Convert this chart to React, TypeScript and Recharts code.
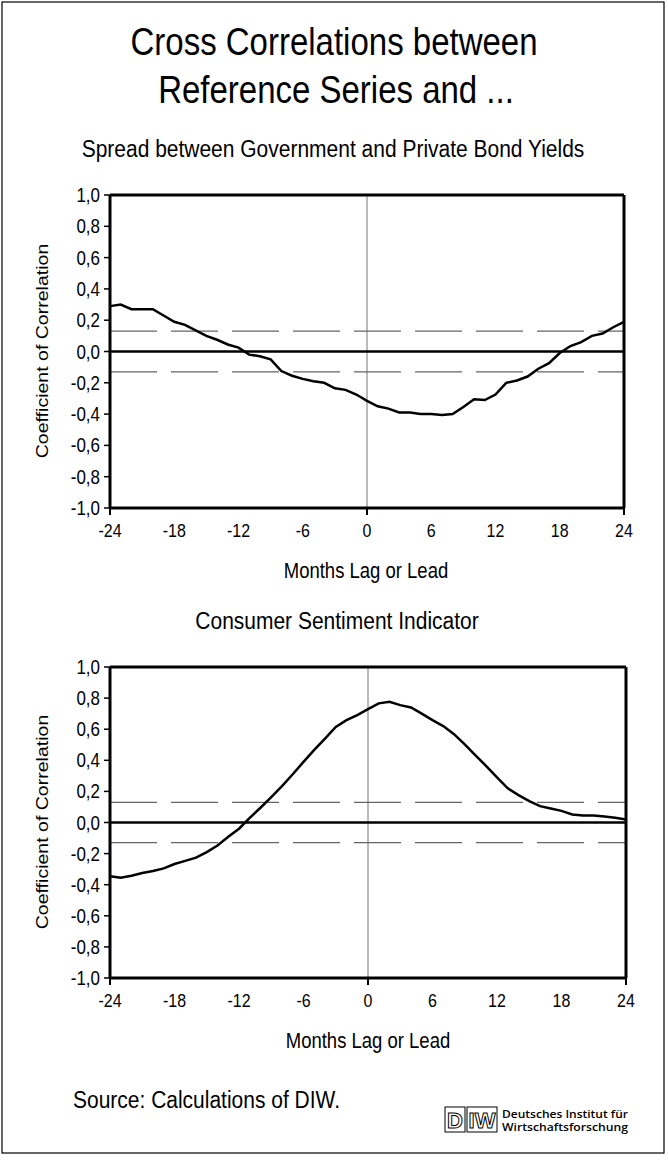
import { LineChart, Line, XAxis, YAxis, ReferenceLine } from 'recharts'

// lag/lead in months
const months = [
  -24, -23, -22, -21, -20, -19, -18, -17, -16, -15, -14, -13, -12,
  -11, -10, -9, -8, -7, -6, -5, -4, -3, -2, -1, 0,
  1, 2, 3, 4, 5, 6, 7, 8, 9, 10, 11, 12,
  13, 14, 15, 16, 17, 18, 19, 20, 21, 22, 23, 24,
]

const spreadValues = [
  0.29, 0.3, 0.27, 0.27, 0.27, 0.23, 0.19, 0.17, 0.135, 0.1, 0.075, 0.045, 0.025,
  -0.02, -0.03, -0.05, -0.125, -0.155, -0.175, -0.19, -0.2, -0.235, -0.245, -0.275, -0.315,
  -0.35, -0.365, -0.39, -0.39, -0.4, -0.4, -0.405, -0.4, -0.355, -0.305, -0.31, -0.275,
  -0.2, -0.185, -0.16, -0.11, -0.075, -0.01, 0.035, 0.06, 0.1, 0.115, 0.155, 0.19,
]

const sentimentValues = [
  -0.345, -0.355, -0.342, -0.325, -0.312, -0.295, -0.267, -0.247, -0.226, -0.19, -0.148, -0.092, -0.04,
  0.03, 0.095, 0.163, 0.234, 0.31, 0.39, 0.467, 0.54, 0.615, 0.658, 0.69, 0.729,
  0.766, 0.776, 0.755, 0.74, 0.7, 0.658, 0.62, 0.568, 0.503, 0.432, 0.363, 0.29,
  0.22, 0.176, 0.138, 0.105, 0.09, 0.075, 0.052, 0.045, 0.045, 0.039, 0.03, 0.02,
]

const xTicks = [-24, -18, -12, -6, 0, 6, 12, 18, 24]
const markedXTicks = [-24, 0, 24]
const yTicks = [1, 0.8, 0.6, 0.4, 0.2, 0, -0.2, -0.4, -0.6, -0.8, -1]
const bandLimit = 0.13

const FONT = '"Liberation Sans", Arial, sans-serif'
const STRETCH = 1.15

function formatComma(value: number): string {
  return value.toFixed(1).replace('.', ',')
}

function XTick(props: any) {
  const { x, y, payload } = props
  const marked = markedXTicks.includes(payload.value)
  return (
    <g>
      {marked && <line x1={x} x2={x} y1={y} y2={y + 7} stroke="#000" strokeWidth={2} />}
      <text
        transform={`translate(${x},${y + 29}) scale(1,${STRETCH})`}
        textAnchor="middle"
        fontSize={16}
        fontFamily={FONT}
        fill="#000"
      >
        {payload.value}
      </text>
    </g>
  )
}

function YTick(props: any) {
  const { x, y, payload } = props
  return (
    <g>
      <line x1={x - 6} x2={x} y1={y} y2={y} stroke="#000" strokeWidth={1.5} />
      <text
        transform={`translate(${x - 10},${y + 7}) scale(1,${STRETCH})`}
        textAnchor="end"
        fontSize={17}
        fontFamily={FONT}
        fill="#000"
      >
        {formatComma(payload.value)}
      </text>
    </g>
  )
}

interface CorrChartProps {
  values: number[]
  top: number
  marginTop: number
  marginRight: number
}

function CorrChart({ values, top, marginTop, marginRight }: CorrChartProps) {
  const rows = months.map((m, i) => ({ month: m, value: values[i] }))
  return (
    <div style={{ position: 'absolute', left: 0, top, width: 668, height: 450 }}>
      <LineChart
        width={668}
        height={450}
        data={rows}
        margin={{ top: marginTop, right: marginRight, bottom: 62, left: 50 }}
      >
        <XAxis
          dataKey="month"
          type="number"
          domain={[-24, 24]}
          ticks={xTicks}
          interval={0}
          height={30}
          tickSize={0}
          tickMargin={0}
          tickLine={false}
          axisLine={{ stroke: '#000', strokeWidth: 3 }}
          tick={<XTick />}
        />
        <YAxis
          type="number"
          domain={[-1, 1]}
          ticks={yTicks}
          interval={0}
          width={60}
          tickSize={0}
          tickMargin={0}
          tickLine={false}
          axisLine={{ stroke: '#000', strokeWidth: 3 }}
          tick={<YTick />}
        />
        <ReferenceLine x={0} stroke="#777" strokeWidth={1} />
        <ReferenceLine y={bandLimit} stroke="#666" strokeWidth={1.2} strokeDasharray="47 14" />
        <ReferenceLine y={-bandLimit} stroke="#666" strokeWidth={1.2} strokeDasharray="47 14" />
        <ReferenceLine y={0} stroke="#000" strokeWidth={2.5} />
        <ReferenceLine y={1} stroke="#000" strokeWidth={3} />
        <ReferenceLine x={24} stroke="#000" strokeWidth={3} />
        <Line
          dataKey="value"
          type="linear"
          stroke="#000"
          strokeWidth={2.5}
          dot={false}
          isAnimationActive={false}
        />
      </LineChart>
    </div>
  )
}

function Txt({ x, y, size, anchor = 'middle', children }: any) {
  return (
    <text
      transform={`translate(${x},${y}) scale(1,${STRETCH})`}
      textAnchor={anchor}
      fontSize={size}
      fontFamily={FONT}
      fill="#000"
    >
      {children}
    </text>
  )
}

function VTxt({ x, y, size, children }: any) {
  return (
    <text
      transform={`translate(${x},${y}) rotate(-90) scale(${STRETCH},1)`}
      textAnchor="middle"
      fontSize={size}
      fontFamily={FONT}
      fill="#000"
    >
      {children}
    </text>
  )
}

export default function App() {
  return (
    <div style={{ position: 'absolute', left: 0, top: 0, width: 668, height: 1167, background: '#fff' }}>
      <svg width={668} height={1167} style={{ position: 'absolute', left: 0, top: 0 }}>
        <rect x={2} y={2} width={662} height={1151} fill="none" stroke="#000" strokeWidth={1.2} />
        <Txt x={334} y={55} size={33}>Cross Correlations between</Txt>
        <Txt x={336} y={103} size={33}>Reference Series and ...</Txt>
        <Txt x={333} y={157} size={21}>Spread between Government and Private Bond Yields</Txt>
        <VTxt x={48} y={351} size={17}>Coefficient of Correlation</VTxt>
        <Txt x={366} y={578} size={18.5}>Months Lag or Lead</Txt>
        <Txt x={337} y={629} size={21}>Consumer Sentiment Indicator</Txt>
        <VTxt x={48} y={822} size={17}>Coefficient of Correlation</VTxt>
        <Txt x={368} y={1048} size={18.5}>Months Lag or Lead</Txt>
        <Txt x={73} y={1108} size={21} anchor="start">Source: Calculations of DIW.</Txt>
        {/* DIW logo */}
        <g>
          <rect x={445} y={1107} width={20} height={25} fill="#fff" stroke="#000" strokeWidth={1} />
          <rect x={467} y={1107} width={30} height={25} fill="#fff" stroke="#000" strokeWidth={1} />
          <text x={455} y={1128} textAnchor="middle" fontSize={22} fontWeight="bold" fontFamily={FONT} fill="#fff" stroke="#000" strokeWidth={1}>D</text>
          <text x={482} y={1128} textAnchor="middle" fontSize={22} fontWeight="bold" fontFamily={FONT} fill="#fff" stroke="#000" strokeWidth={1}>IW</text>
          <text x={502} y={1118} fontSize={10} fontWeight={600} fontFamily='"Open Sans", sans-serif' fill="#000" textLength={126} lengthAdjust="spacingAndGlyphs">Deutsches Institut für</text>
          <text x={502} y={1131} fontSize={10} fontWeight={600} fontFamily='"Open Sans", sans-serif' fill="#000" textLength={126} lengthAdjust="spacingAndGlyphs">Wirtschaftsforschung</text>
        </g>
      </svg>
      <CorrChart values={spreadValues} top={150} marginTop={45} marginRight={44} />
      <CorrChart values={sentimentValues} top={620} marginTop={47} marginRight={42} />
    </div>
  )
}
